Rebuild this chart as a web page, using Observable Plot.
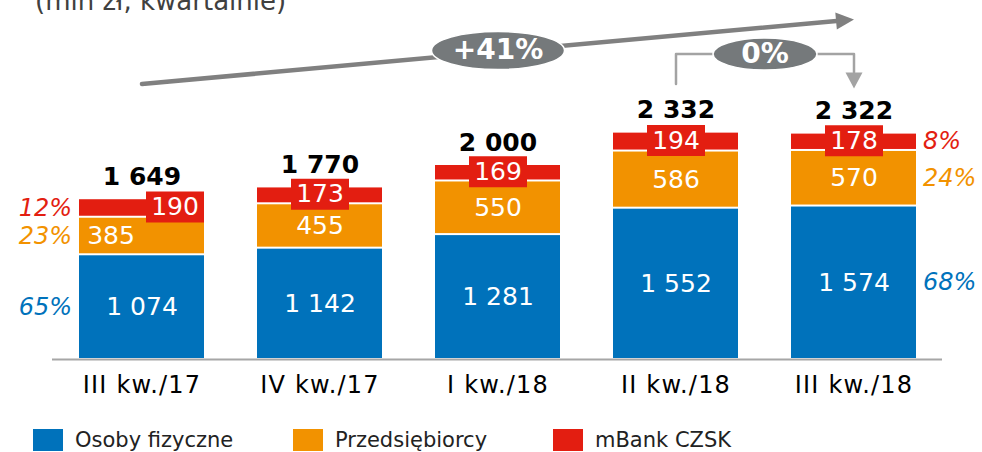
<!DOCTYPE html>
<html><head><meta charset="utf-8">
<script src="https://cdn.jsdelivr.net/npm/d3@7"></script>
<script src="https://cdn.jsdelivr.net/npm/@observablehq/plot@0.6"></script>
<style>
body{margin:0;background:#fff;}
#wrap{position:relative;width:982px;height:452px;overflow:hidden;font-family:"DejaVu Sans",Verdana,sans-serif;}
#sub{position:absolute;top:-12px;left:35px;font-size:26px;line-height:1;color:#404040;white-space:nowrap;}
#chart{position:absolute;top:0;left:0;}
#legend{position:absolute;top:429px;left:33px;display:flex;align-items:center;height:22px;}
.item{display:flex;align-items:center;width:260px;font-size:21px;color:#222;white-space:nowrap;}
.sw{width:30px;height:22px;margin-right:12px;flex:none;}
#chart g[aria-label="x-axis tick label"] text{letter-spacing:1.2px;}
</style></head><body>
<div id="wrap">
  <div id="sub">(mln zł, kwartalnie)</div>
  <div id="chart"></div>
  <div id="legend"></div>
</div>
<script>
// ---- data ----
const quarters = ["III kw./17", "IV kw./17", "I kw./18", "II kw./18", "III kw./18"];
const seriesNames = ["Osoby fizyczne", "Przedsiębiorcy", "mBank CZSK"];
const seriesColors = ["#0072bb", "#f29200", "#e31e11"];
const osobyFizyczne = [1074, 1142, 1281, 1552, 1574];
const przedsiebiorcy = [385, 455, 550, 586, 570];
const mBankCZSK = [190, 173, 169, 194, 178];
const totals = [1649, 1770, 2000, 2332, 2322];
const sharesFirst = ["65%", "23%", "12%"];
const sharesLast = ["68%", "24%", "8%"];
const growthLabel = "+41%";
const changeLabel = "0%";
// annotation anchor levels (data units, mln zł)
const arrowFrom = 2826, arrowTo = 3488, growthBadgeLevel = 3169;
const bracketBase = 2826, bracketTop = 3133, bracketEnd = 2944, bracketTip = 2779;

// ---- derived table ----
const fmt = v => d3.format(",")(v).replace(/,/g, " ");
const seriesValues = [osobyFizyczne, przedsiebiorcy, mBankCZSK];
const rows = [];
quarters.forEach((q, i) => {
  let base = 0;
  seriesValues.forEach((vals, s) => {
    const v = vals[i];
    rows.push({quarter: q, series: seriesNames[s], s, idx: i, value: v, y1: base, y2: base + v, mid: base + v / 2});
    base += v;
  });
});
const totalRows = quarters.map((q, i) => ({quarter: q, total: totals[i]}));
const firstRows = rows.filter(r => r.idx === 0).map(r => ({...r, share: sharesFirst[r.s]}));
const lastRows = rows.filter(r => r.idx === quarters.length - 1).map(r => ({...r, share: sharesLast[r.s]}));
const redRows = rows.filter(r => r.s === 2);
const isSpecial = r => r.idx === 0 && r.s > 0;
const q0 = quarters[0], q3 = quarters[3], q4 = quarters[4], q2 = quarters[2];

// ---- custom symbols ----
const K = 0.5523;
const ellipse = (rx, ry) => ({draw(ctx) {
  ctx.moveTo(rx, 0);
  ctx.bezierCurveTo(rx, ry * K, rx * K, ry, 0, ry);
  ctx.bezierCurveTo(-rx * K, ry, -rx, ry * K, -rx, 0);
  ctx.bezierCurveTo(-rx, -ry * K, -rx * K, -ry, 0, -ry);
  ctx.bezierCurveTo(rx * K, -ry, rx, -ry * K, rx, 0);
  ctx.closePath();
}});
const rectSym = (w, h) => ({draw(ctx) { ctx.rect(-w / 2, -h / 2, w, h); }});
const head = (dxv, dyv, h, w) => ({draw(ctx) {
  const n = Math.hypot(dxv, dyv), ux = dxv / n, uy = dyv / n, px = -uy, py = ux;
  ctx.moveTo(0, 0);
  ctx.lineTo(-ux * h + px * w / 2, -uy * h + py * w / 2);
  ctx.lineTo(-ux * h - px * w / 2, -uy * h - py * w / 2);
  ctx.closePath();
}});

const red = seriesColors[2];
const chart = Plot.plot({
  width: 982, height: 412,
  marginLeft: 25, marginRight: 13, marginTop: 0, marginBottom: 53,
  style: {fontFamily: "DejaVu Sans, Verdana, sans-serif", fontSize: "24px", color: "#000", background: "transparent", overflow: "visible"},
  x: {domain: quarters, padding: 0.3, label: null, tickSize: 0, tickPadding: 16},
  y: {domain: [0, 3600], range: [359, 8], axis: null},
  color: {domain: seriesNames, range: seriesColors},
  marks: [
    Plot.barY(rows, {x: "quarter", y1: "y1", y2: "y2", fill: "series", insetTop: 1, insetBottom: 1}),
    Plot.ruleY([0], {stroke: "#a6a6a6", strokeWidth: 2, insetLeft: 27, insetRight: 27}),
    // red label boxes
    Plot.dot(redRows.filter(r => r.idx !== 0), {x: "quarter", y: "mid", symbol: rectSym(58, 31), r: 5, fill: red, dy: -1}),
    Plot.dot(redRows.filter(r => r.idx === 0), {x: "quarter", y: "mid", symbol: rectSym(58, 31), r: 5, fill: red, dy: -1, dx: 33}),
    // segment values
    Plot.text(rows.filter(r => !isSpecial(r) && r.s < 2), {x: "quarter", y: "mid", text: d => fmt(d.value), fill: "white", fontSize: 25}),
    Plot.text(rows.filter(r => !isSpecial(r) && r.s === 2), {x: "quarter", y: "mid", text: d => fmt(d.value), fill: "white", fontSize: 25, dy: -1}),
    Plot.text(rows.filter(r => r.idx === 0 && r.s === 1), {x: "quarter", y: "mid", text: d => fmt(d.value), fill: "white", fontSize: 25, dx: -31}),
    Plot.text(rows.filter(r => r.idx === 0 && r.s === 2), {x: "quarter", y: "mid", text: d => fmt(d.value), fill: "white", fontSize: 25, dx: 33, dy: -1}),
    // totals
    Plot.text(totalRows, {x: "quarter", y: "total", text: d => fmt(d.total), dy: -22, fontSize: 25, fontWeight: "bold", fill: "#000"}),
    // shares
    Plot.text(firstRows, {x: "quarter", y: "mid", text: "share", fill: "series", dx: -70, textAnchor: "end", fontStyle: "italic", fontSize: 24}),
    Plot.text(lastRows, {x: "quarter", y: "mid", text: "share", fill: "series", dx: 69, textAnchor: "start", fontStyle: "italic", fontSize: 24}),
    // growth arrow
    Plot.arrow([{}], {x1: () => q0, y1: () => arrowFrom, x2: () => q4, y2: () => arrowTo, stroke: "#808080", strokeWidth: 4.5, headLength: 0, insetEnd: 12}),
    Plot.dot([{}], {x: () => q4, y: () => arrowTo, symbol: head(1, -0.0909, 18, 17), r: 5, fill: "#808080"}),
    Plot.dot([{}], {x: () => q2, y: () => growthBadgeLevel, symbol: ellipse(66.5, 19), r: 5, fill: "#75797b", stroke: "white", strokeWidth: 1.5}),
    Plot.text([growthLabel], {x: () => q2, y: () => growthBadgeLevel, text: d => d, fill: "white", fontWeight: "bold", fontSize: 28}),
    // bracket 0%
    Plot.line([{q: q3, v: bracketBase}, {q: q3, v: bracketTop}, {q: q4, v: bracketTop}, {q: q4, v: bracketEnd}], {x: "q", y: "v", stroke: "#a3a3a3", strokeWidth: 2.5}),
    Plot.dot([{}], {x: () => q4, y: () => bracketTip, symbol: head(0, 1, 16, 17), r: 5, fill: "#a3a3a3"}),
    Plot.dot([{}], {x: () => q3, y: () => bracketTop, symbol: ellipse(52, 16), r: 5, fill: "#75797b", stroke: "white", strokeWidth: 1.5, dx: 89}),
    Plot.text([changeLabel], {x: () => q3, y: () => bracketTop, text: d => d, fill: "white", fontWeight: "bold", fontSize: 28, dx: 89})
  ]
});
document.getElementById("chart").appendChild(chart);

// legend
const legend = document.getElementById("legend");
seriesNames.forEach((name, i) => {
  const item = document.createElement("div");
  item.className = "item";
  const sw = document.createElement("span");
  sw.className = "sw";
  sw.style.background = seriesColors[i];
  const t = document.createElement("span");
  t.textContent = name;
  item.appendChild(sw); item.appendChild(t);
  legend.appendChild(item);
});
</script>
</body></html>
